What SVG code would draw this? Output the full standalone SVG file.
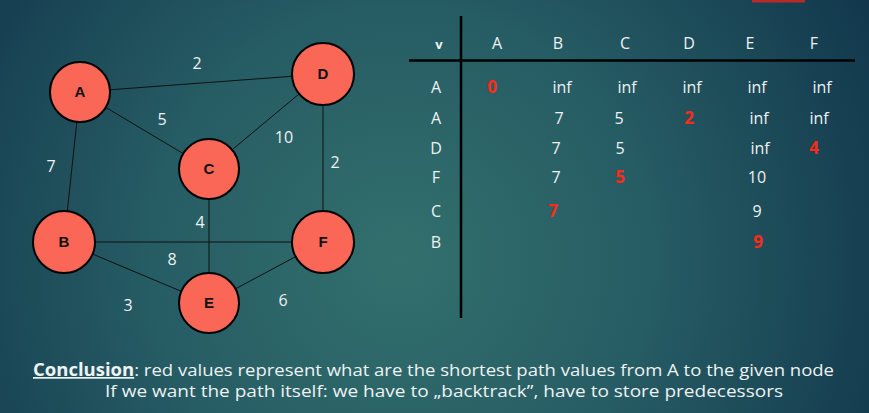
<svg xmlns="http://www.w3.org/2000/svg" width="869" height="413" viewBox="0 0 869 413">
<defs>
<radialGradient id="bg" cx="400" cy="260" r="560" gradientUnits="userSpaceOnUse">
<stop offset="0" stop-color="#33706d"/>
<stop offset="0.45" stop-color="#265c64"/>
<stop offset="1" stop-color="#10344a"/>
</radialGradient>
<style>
.edge{stroke:#111;stroke-width:1;fill:none}
.node circle{fill:#fa6756;stroke:#000;stroke-width:2}
.node text{font-family:"Liberation Sans","DejaVu Sans",sans-serif;font-weight:bold;font-size:15px;fill:#111;text-anchor:middle}
.w{font-family:"Open Sans","DejaVu Sans",sans-serif;font-size:16px;fill:#eef2f2;text-anchor:middle}
.t{font-family:"Open Sans","DejaVu Sans",sans-serif;font-size:16px;fill:#eef2f2;text-anchor:middle}
.r{font-family:"Open Sans","DejaVu Sans",sans-serif;font-size:17px;font-weight:bold;fill:#ff2a18;text-anchor:middle}
.grid{stroke:#000;stroke-width:2.5}
.c{font-family:"Open Sans","DejaVu Sans",sans-serif;font-size:17px;fill:#eef2f2}
</style>
</defs>
<rect width="869" height="413" fill="url(#bg)"/>
<rect x="752" y="0" width="53" height="2.5" fill="#b82a28"/>

<g id="connectors">
<line class="edge" x1="80" y1="92" x2="323" y2="74"/>
<line class="edge" x1="80" y1="92" x2="209" y2="169"/>
<line class="edge" x1="80" y1="92" x2="64" y2="242"/>
<line class="edge" x1="209" y1="169" x2="323" y2="74"/>
<line class="edge" x1="323" y1="74" x2="323" y2="242"/>
<line class="edge" x1="209" y1="169" x2="209" y2="303"/>
<line class="edge" x1="64" y1="242" x2="323" y2="242"/>
<line class="edge" x1="64" y1="242" x2="209" y2="303"/>
<line class="edge" x1="209" y1="303" x2="323" y2="242"/>
</g>

<g id="edge-labels">
<text class="w" x="197" y="69">2</text>
<text class="w" x="162" y="125">5</text>
<text class="w" x="284" y="143">10</text>
<text class="w" x="51" y="172">7</text>
<text class="w" x="335" y="168">2</text>
<text class="w" x="200" y="228">4</text>
<text class="w" x="172" y="265">8</text>
<text class="w" x="128" y="311">3</text>
<text class="w" x="283" y="306">6</text>
</g>

<g id="node-A" class="node"><circle cx="80" cy="92" r="30"/><text x="80" y="97">A</text></g>
<g id="node-D" class="node"><circle cx="323" cy="74" r="31"/><text x="323" y="79">D</text></g>
<g id="node-C" class="node"><circle cx="209" cy="169" r="30"/><text x="209" y="174">C</text></g>
<g id="node-B" class="node"><circle cx="64" cy="242" r="31"/><text x="64" y="247">B</text></g>
<g id="node-F" class="node"><circle cx="323" cy="242" r="31"/><text x="323" y="247">F</text></g>
<g id="node-E" class="node"><circle cx="209" cy="303" r="30"/><text x="209" y="308">E</text></g>

<g id="table">
<line class="grid" x1="461" y1="16" x2="461" y2="318"/>
<line class="grid" x1="409" y1="60.5" x2="855" y2="60.5"/>
<text class="t" x="439" y="49" style="font-weight:bold;font-size:13px">v</text>
<text class="t" x="497" y="49">A</text>
<text class="t" x="558" y="49">B</text>
<text class="t" x="625" y="49">C</text>
<text class="t" x="689" y="49">D</text>
<text class="t" x="750" y="49">E</text>
<text class="t" x="814" y="49">F</text>

<text class="t" x="436" y="93">A</text>
<text class="t" x="436" y="124">A</text>
<text class="t" x="436" y="154">D</text>
<text class="t" x="436" y="183">F</text>
<text class="t" x="436" y="217">C</text>
<text class="t" x="436" y="248">B</text>

<text class="r" x="492" y="93">0</text>
<text class="t" x="562" y="93">inf</text>
<text class="t" x="627" y="93">inf</text>
<text class="t" x="692" y="93">inf</text>
<text class="t" x="757" y="93">inf</text>
<text class="t" x="822" y="93">inf</text>

<text class="t" x="559" y="124">7</text>
<text class="t" x="619" y="124">5</text>
<text class="r" x="689" y="124">2</text>
<text class="t" x="759" y="124">inf</text>
<text class="t" x="819" y="124">inf</text>

<text class="t" x="556" y="154">7</text>
<text class="t" x="620" y="154">5</text>
<text class="t" x="760" y="154">inf</text>
<text class="r" x="814" y="154">4</text>

<text class="t" x="556" y="183">7</text>
<text class="r" x="620" y="183">5</text>
<text class="t" x="757" y="183">10</text>

<text class="r" x="553" y="217">7</text>
<text class="t" x="757" y="217">9</text>
<text class="r" x="758" y="248">9</text>
</g>

<g id="conclusion">
<text class="c" x="33" y="376" textLength="801" lengthAdjust="spacingAndGlyphs"><tspan font-weight="bold" text-decoration="underline">Conclusion</tspan>: red values represent what are the shortest path values from A to the given node</text>
<text class="c" x="105" y="397" textLength="678" lengthAdjust="spacingAndGlyphs">If we want the path itself: we have to „backtrack”, have to store predecessors</text>
</g>
</svg>
